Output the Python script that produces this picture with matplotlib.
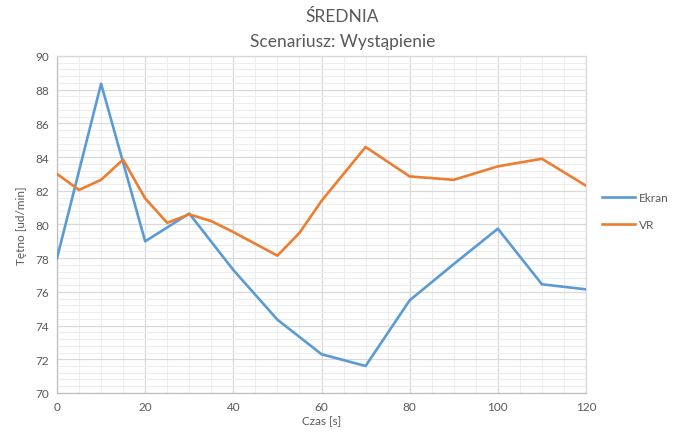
import numpy as np
import matplotlib.pyplot as plt
from matplotlib.ticker import MultipleLocator

plt.rcParams['font.family'] = ['Lato', 'DejaVu Sans']

# Heart rate, screen group (every 10 s)
ekran_t = [0, 10, 20, 30, 40, 50, 60, 70, 80, 90, 100, 110, 120]
ekran_hr = [78.0, 88.35, 79.0, 80.65, 77.3, 74.35, 72.3, 71.6, 75.5, 77.65, 79.75, 76.45, 76.15]

# Heart rate, VR group (every 5 s up to 60, then every 10 s)
vr_t = [0, 5, 10, 15, 20, 25, 30, 35, 40, 45, 50, 55, 60, 70, 80, 90, 100, 110, 120]
vr_hr = [83.0, 82.05, 82.65, 83.85, 81.55, 80.1, 80.6, 80.2, 79.55, 78.85, 78.15, 79.5,
         81.4, 84.6, 82.85, 82.65, 83.45, 83.9, 82.3]

fig = plt.figure(figsize=(6.85, 4.35), dpi=100)
ax = fig.add_axes([0.0832, 0.0943, 0.7723, 0.7747])

ax.plot(ekran_t, ekran_hr, color='#5B9BD5', lw=1.9, label='Ekran', zorder=3)
ax.plot(vr_t, vr_hr, color='#ED7D31', lw=1.9, label='VR', zorder=3)

ax.set_xlim(0, 120)
ax.set_ylim(70, 90)
ax.xaxis.set_major_locator(MultipleLocator(20))
ax.xaxis.set_minor_locator(MultipleLocator(5))
ax.yaxis.set_major_locator(MultipleLocator(2))
ax.yaxis.set_minor_locator(MultipleLocator(0.4))
ax.grid(which='major', color='#D9D9D9', lw=0.9, zorder=0)
ax.grid(which='minor', color='#EDEDED', lw=0.8, zorder=0)
ax.set_axisbelow(True)
ax.tick_params(which='both', length=0, labelsize=8.5, labelcolor='#595959', pad=6)
for s in ax.spines.values():
    s.set_color('#D9D9D9')
    s.set_linewidth(0.9)
ax.spines['left'].set_color('#BFBFBF')
ax.spines['bottom'].set_color('#BFBFBF')

ax.set_xlabel('Czas [s]', fontsize=8.5, color='#595959', labelpad=2)
ax.set_ylabel('Tętno [ud/min]', fontsize=8.5, color='#595959', labelpad=6)

fig.text(0.5, 0.962, 'ŚREDNIA', ha='center', va='center', fontsize=12.5, color='#595959')
fig.text(0.5, 0.903, 'Scenariusz: Wystąpienie', ha='center', va='center', fontsize=12.5, color='#595959')

ax.legend(loc='center left', bbox_to_anchor=(1.01, 0.54), frameon=False, fontsize=8.5,
          labelcolor='#595959', handlelength=2.8, handletextpad=0.3, labelspacing=1.4)

fig.savefig('out.png', dpi=100)
